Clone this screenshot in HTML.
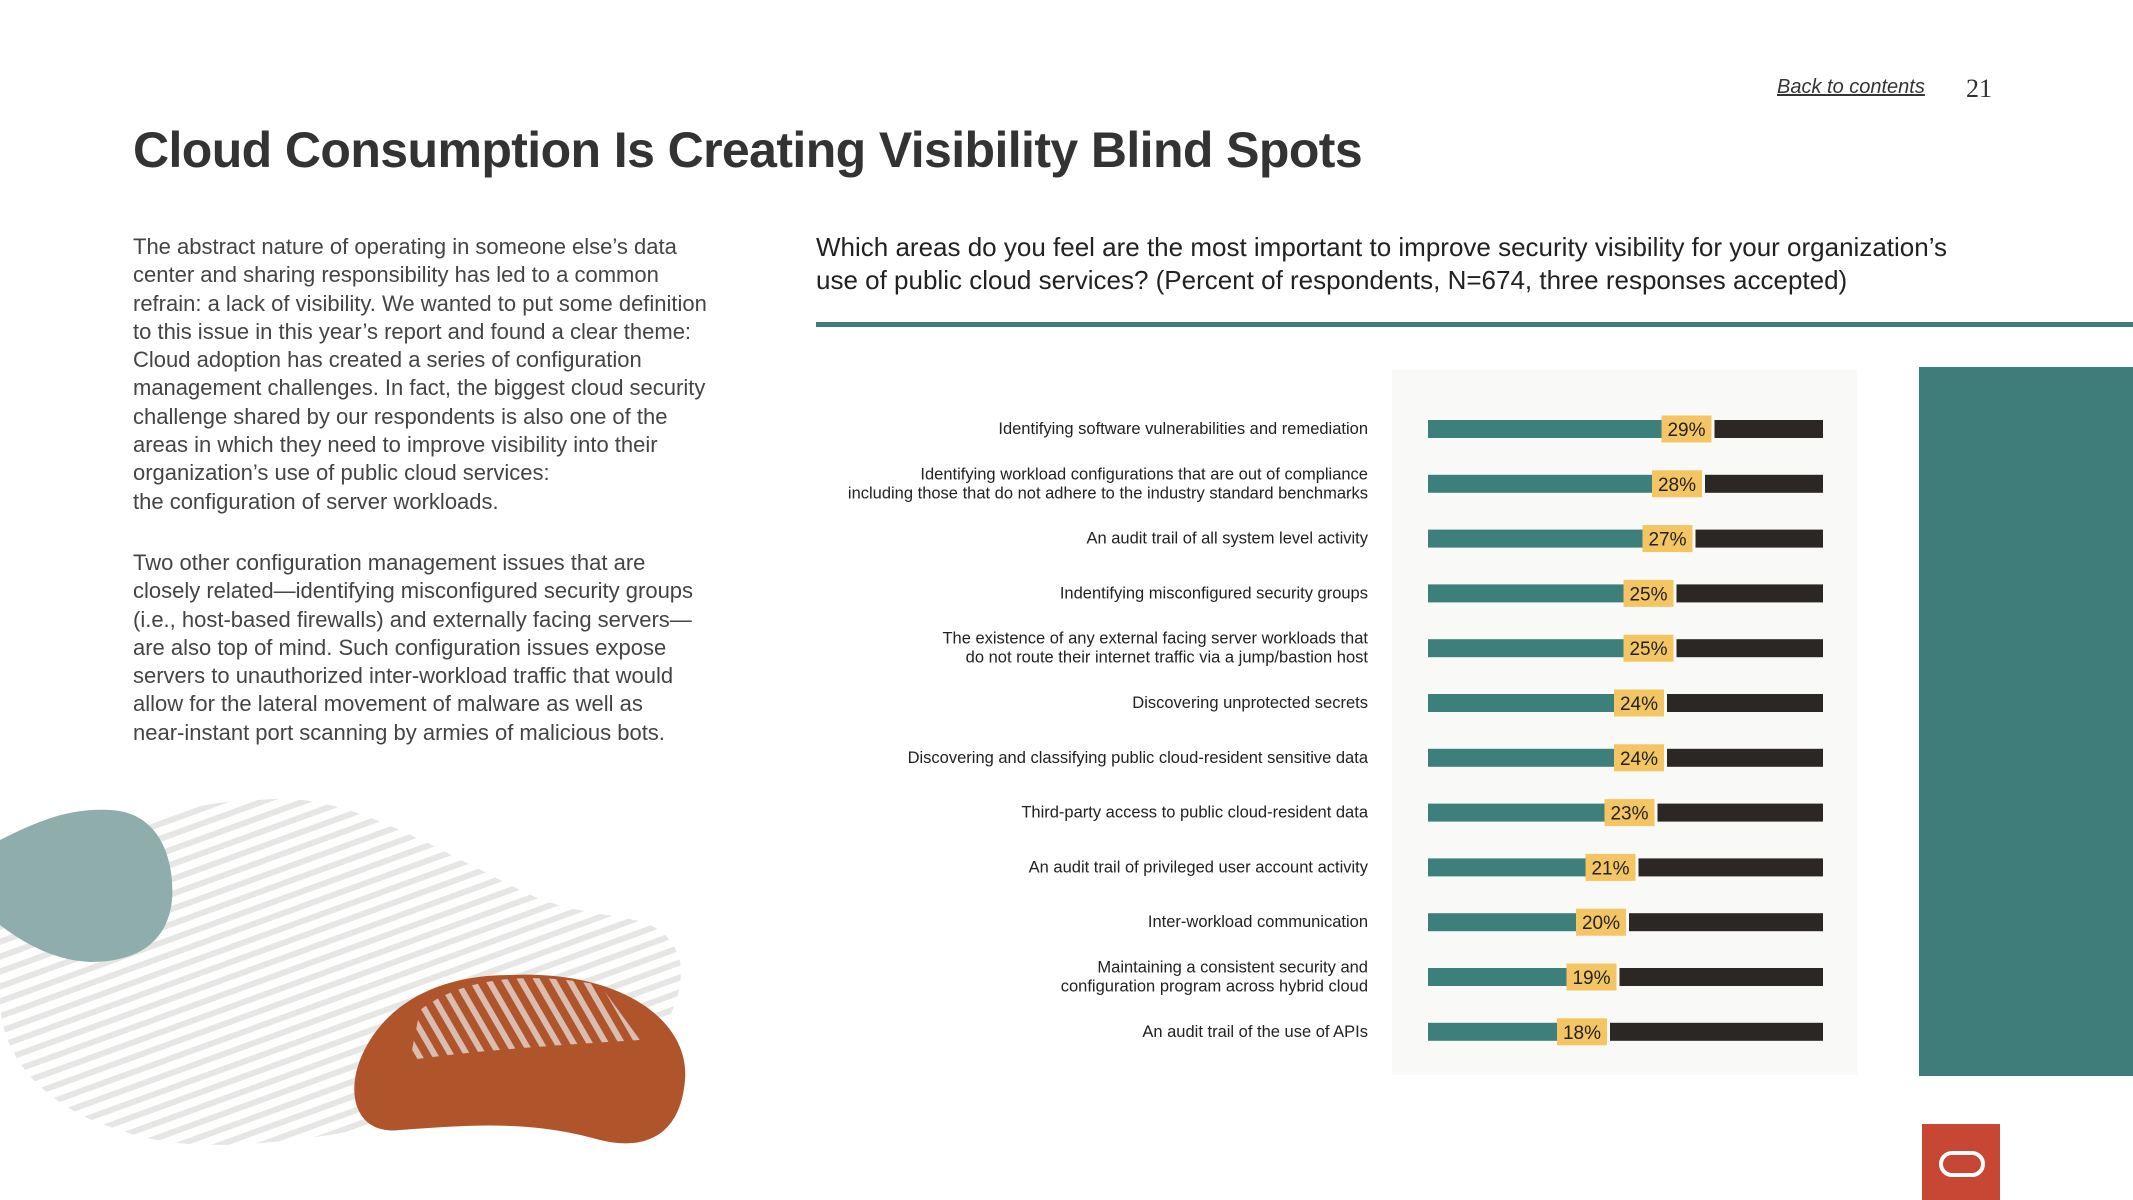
<!DOCTYPE html>
<html><head><meta charset="utf-8">
<style>
body{margin:0;width:2133px;height:1200px;background:#fff;position:relative;overflow:hidden;font-family:"Liberation Sans",sans-serif;color:#333}
.abs{position:absolute}
#body p{margin:0 0 33px 0}
</style></head>
<body>
<svg class="abs" style="left:0;top:0" width="2133" height="1200">
  <defs>
    <pattern id="hatch" width="14" height="14" patternUnits="userSpaceOnUse" patternTransform="rotate(70)">
      <rect width="6" height="14" fill="#e6e6e4"/>
    </pattern>
    <pattern id="hatch2" width="14" height="14" patternUnits="userSpaceOnUse" patternTransform="rotate(-30)">
      <rect width="6" height="14" fill="#dcc9bf"/>
    </pattern>
  </defs>
  <path d="M0 900 C60 840 180 800 260 800 C340 790 420 840 520 890 C600 930 660 900 680 960 C690 1040 600 1100 460 1110 C320 1140 200 1160 120 1130 C50 1110 0 1060 0 1000 Z" fill="url(#hatch)"/>
  <path d="M0 840 C40 820 70 808 110 810 C160 812 175 860 172 900 C168 940 140 962 90 962 C50 960 20 940 0 925 Z" fill="#8fadad"/>
  <path d="M360 1060 C380 1010 430 975 510 975 C620 970 690 1020 685 1080 C680 1140 640 1150 600 1140 C530 1120 470 1125 400 1130 C360 1135 345 1100 360 1060 Z" fill="#b0542b"/>
  <path d="M420 1010 C460 980 520 970 600 985 L640 1040 C560 1045 480 1050 410 1060 Z" fill="url(#hatch2)" opacity="0.9"/>
  <rect x="1392" y="370" width="465" height="705" fill="#f9f9f7"/>
  <rect x="1919" y="367" width="214" height="709" fill="#3d7d7a"/>
  <rect x="816" y="322" width="1317" height="5" fill="#3d7d7a"/>
</svg>

<a class="abs" style="left:1777px;top:76px;font-size:20px;font-style:italic;text-decoration:underline;color:#333">Back to contents</a>
<div class="abs" style="left:1966px;top:74px;font-size:26px;font-family:'Liberation Serif',serif;color:#333">21</div>

<div class="abs" style="left:133px;top:121px;font-size:50px;font-weight:bold;color:#333;letter-spacing:-0.6px">Cloud Consumption Is Creating Visibility Blind Spots</div>

<div id="body" class="abs" style="left:133px;top:233px;width:700px;font-size:22px;line-height:28.3px;color:#444;white-space:nowrap">
<p>The abstract nature of operating in someone else’s data<br>center and sharing responsibility has led to a common<br>refrain: a lack of visibility. We wanted to put some definition<br>to this issue in this year’s report and found a clear theme:<br>Cloud adoption has created a series of configuration<br>management challenges. In fact, the biggest cloud security<br>challenge shared by our respondents is also one of the<br>areas in which they need to improve visibility into their<br>organization’s use of public cloud services:<br>the configuration of server workloads.</p>
<p>Two other configuration management issues that are<br>closely related—identifying misconfigured security groups<br>(i.e., host-based firewalls) and externally facing servers—<br>are also top of mind. Such configuration issues expose<br>servers to unauthorized inter-workload traffic that would<br>allow for the lateral movement of malware as well as<br>near-instant port scanning by armies of malicious bots.</p>
</div>

<div class="abs" style="left:816px;top:231px;width:1175px;font-size:26px;line-height:33px;color:#222">Which areas do you feel are the most important to improve security visibility for your organization’s use of public cloud services? (Percent of respondents, N=674, three responses accepted)</div>

<svg id="chart" class="abs" style="left:0;top:0" width="2133" height="1200"></svg>

<div class="abs" style="left:1922px;top:1124px;width:78px;height:76px;background:#c74634">
  <div style="position:absolute;left:17px;top:27px;width:38px;height:18px;border:4.5px solid #fff;border-radius:13px"></div>
</div>

<script>
const categories=["Identifying software vulnerabilities and remediation","Identifying workload configurations that are out of compliance|including those that do not adhere to the industry standard benchmarks","An audit trail of all system level activity","Indentifying misconfigured security groups","The existence of any external facing server workloads that|do not route their internet traffic via a jump/bastion host","Discovering unprotected secrets","Discovering and classifying public cloud-resident sensitive data","Third-party access to public cloud-resident data","An audit trail of privileged user account activity","Inter-workload communication","Maintaining a consistent security and|configuration program across hybrid cloud","An audit trail of the use of APIs"];
const values=[29,28,27,25,25,24,24,23,21,20,19,18];
const labels=["29%","28%","27%","25%","25%","24%","24%","23%","21%","20%","19%","18%"];

const NS="http://www.w3.org/2000/svg";
const svg=document.getElementById('chart');
const x=v=>1386+9.5*v;
const y=i=>429+54.8*i;
const barStart=1428, barEnd=1823, bh=18, boxW=50, boxH=27;
function mk(t,a){const e=document.createElementNS(NS,t);for(const k in a)e.setAttribute(k,a[k]);svg.appendChild(e);return e;}
categories.forEach((c,i)=>{
  const cy=y(i), xv=x(values[i]);
  const dark=mk('rect',{x:xv+boxW+3,y:cy-bh/2,width:barEnd-(xv+boxW+3),height:bh,fill:'#2b2724'});
  
  
  const bar=mk('rect',{x:barStart,y:cy-bh/2,width:xv-barStart,height:bh,fill:'#3d7f7b'});
  
  
  const box=mk('rect',{x:xv,y:cy-boxH/2,width:boxW,height:boxH,fill:'#f3c663'});
  
  
  const t=mk('text',{x:xv+boxW/2,y:cy+7,'text-anchor':'middle','font-size':'19','fill':'#222','font-family':'Liberation Sans, sans-serif'});
  t.textContent=labels[i];
  
  
  const lines=c.split('|');
  lines.forEach((ln,j)=>{
    const off=(j-(lines.length-1)/2)*19;
    const lt=mk('text',{x:1368,y:cy+off+5,'text-anchor':'end','font-size':'16.5','fill':'#222','font-family':'Liberation Sans, sans-serif'});
    lt.textContent=ln;
    
    
  });
});
</script>
</body></html>
